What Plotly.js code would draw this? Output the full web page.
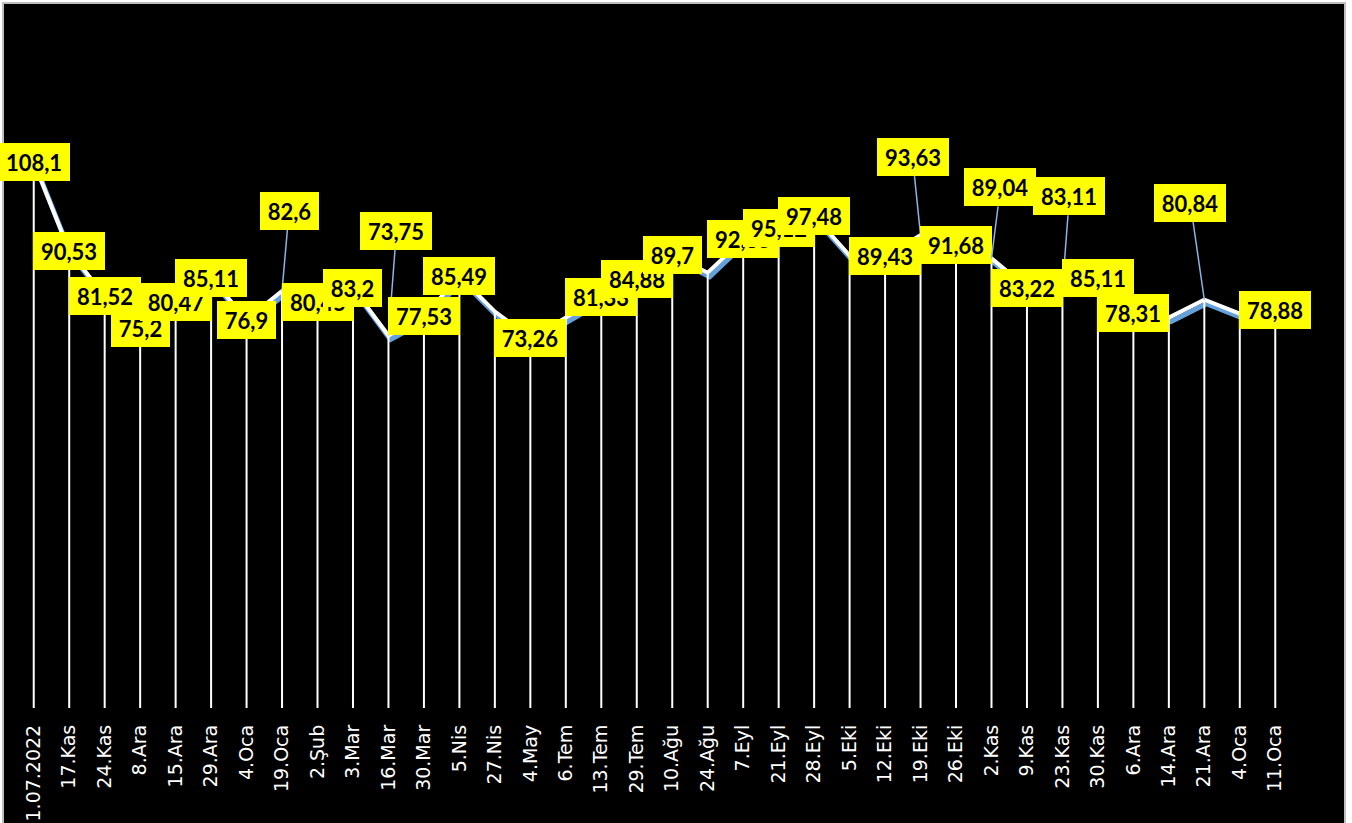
<!DOCTYPE html>
<html>
<head>
<meta charset="utf-8">
<script src="https://cdn.plot.ly/plotly-3.0.1.min.js"></script>
<style>
  html, body { margin: 0; padding: 0; background: #ffffff; }
  #chart { width: 1352px; height: 823px; }
</style>
</head>
<body>
<div id="chart"></div>
<script>
// ---- data ----
const categories = ["1.07.2022","17.Kas","24.Kas","8.Ara","15.Ara","29.Ara","4.Oca","19.Oca","2.Şub","3.Mar",
  "16.Mar","30.Mar","5.Nis","27.Nis","4.May","6.Tem","13.Tem","29.Tem","10.Ağu","24.Ağu",
  "7.Eyl","21.Eyl","28.Eyl","5.Eki","12.Eki","19.Eki","26.Eki","2.Kas","9.Kas","23.Kas",
  "30.Kas","6.Ara","14.Ara","21.Ara","4.Oca","11.Oca"];
const values = [108.1, 90.53, 81.52, 75.2, 80.47, 85.11, 76.9, 82.6, 80.45, 83.2,
  73.75, 77.53, 85.49, 78.5, 73.26, 77.4, 81.33, 84.88, 89.7, 86.2,
  92.85, 95.12, 97.48, 89.6, 89.43, 93.63, 91.68, 89.04, 83.22, 83.11,
  85.11, 78.31, 77.3, 80.84, 78.1, 78.88];
// which points carry a visible data label
const labelled = [1,1,1,1,1,1,1,1,1,1, 1,1,1,0,1,0,1,1,1,0, 1,1,1,0,1,1,1,1,1,1, 1,1,0,1,0,1];
// labels moved away from their point with a leader line: index -> [dx, dy] in px
const leaderOffsets = {7:[7,-80], 10:[8,-105], 25:[-8,-78], 27:[9,-71], 29:[7,-92], 33:[-14,-97]};

const idx = categories.map((c, i) => i);
const pxPerUnit = 707 / 140;
const pxPerCat = 1277 / 36;

const shadow = {
  x: idx, y: values, xaxis: 'x', yaxis: 'y', type: 'scatter', mode: 'lines',
  line: {color: '#64A0DC', width: 5}, hoverinfo: 'skip', showlegend: false
};
const drops = {
  x: idx, y: values, xaxis: 'x2', yaxis: 'y2', type: 'scatter', mode: 'markers',
  marker: {size: 1, color: 'rgba(0,0,0,0)'},
  error_y: {type: 'data', symmetric: false, array: values.map(() => 0), arrayminus: values,
            color: '#ffffff', thickness: 2, width: 0},
  hoverinfo: 'skip', showlegend: false
};
const mainLine = {
  x: idx, y: values, xaxis: 'x2', yaxis: 'y2', type: 'scatter', mode: 'lines',
  line: {color: '#ffffff', width: 4}, hoverinfo: 'skip', showlegend: false
};

const annotations = [];
values.forEach((v, i) => {
  if (!labelled[i]) return;
  const txt = String(v).replace('.', ',');
  const a = {
    x: i, y: v, xref: 'x2', yref: 'y2', text: txt,
    font: {family: 'Lato', size: 22, color: '#000000', weight: 'bold'},
    bgcolor: '#FFFF00', borderpad: 0, borderwidth: 0,
    width: txt.length <= 4 ? 59 : 72, height: 38,
    align: 'center', valign: 'middle', showarrow: false
  };
  if (leaderOffsets[i]) {
    a.showarrow = true;
    a.ax = leaderOffsets[i][0];
    a.ay = leaderOffsets[i][1];
    a.arrowhead = 0;
    a.arrowwidth = 1.5;
    a.arrowcolor = '#8DB3E2';
    a.standoff = 0;
  }
  annotations.push(a);
});

const layout = {
  width: 1352, height: 823,
  margin: {l: 16, r: 59, t: 1, b: 115},
  paper_bgcolor: '#ffffff',
  plot_bgcolor: 'rgba(0,0,0,0)',
  showlegend: false,
  shapes: [{
    type: 'rect', xref: 'paper', yref: 'paper', layer: 'below',
    x0: (3 - 16) / 1277, x1: (1345 - 16) / 1277,
    y0: (708 - 830) / 707, y1: (708 - 3) / 707,
    fillcolor: '#000000', line: {color: '#BFBFBF', width: 2}
  }],
  xaxis: {
    range: [-0.5 - 2 / pxPerCat, 35.5 - 2 / pxPerCat], visible: false,
    showgrid: false, zeroline: false, fixedrange: true
  },
  yaxis: {
    range: [4 / pxPerUnit, 140 + 4 / pxPerUnit], visible: false,
    showgrid: false, zeroline: false, fixedrange: true
  },
  xaxis2: {
    overlaying: 'x', anchor: 'y2', range: [-0.5, 35.5],
    tickmode: 'array', tickvals: idx, ticktext: categories, tickangle: -90,
    tickfont: {family: 'DejaVu Sans', size: 19, color: '#ffffff'},
    ticks: '', ticklabelstandoff: 12,
    showgrid: false, zeroline: false, showline: false, fixedrange: true
  },
  yaxis2: {
    overlaying: 'y', anchor: 'x2', range: [0, 140], visible: false,
    showgrid: false, zeroline: false, fixedrange: true
  },
  annotations: annotations
};

Plotly.newPlot('chart', [shadow, drops, mainLine], layout, {displayModeBar: false, staticPlot: true});
</script>
</body>
</html>
